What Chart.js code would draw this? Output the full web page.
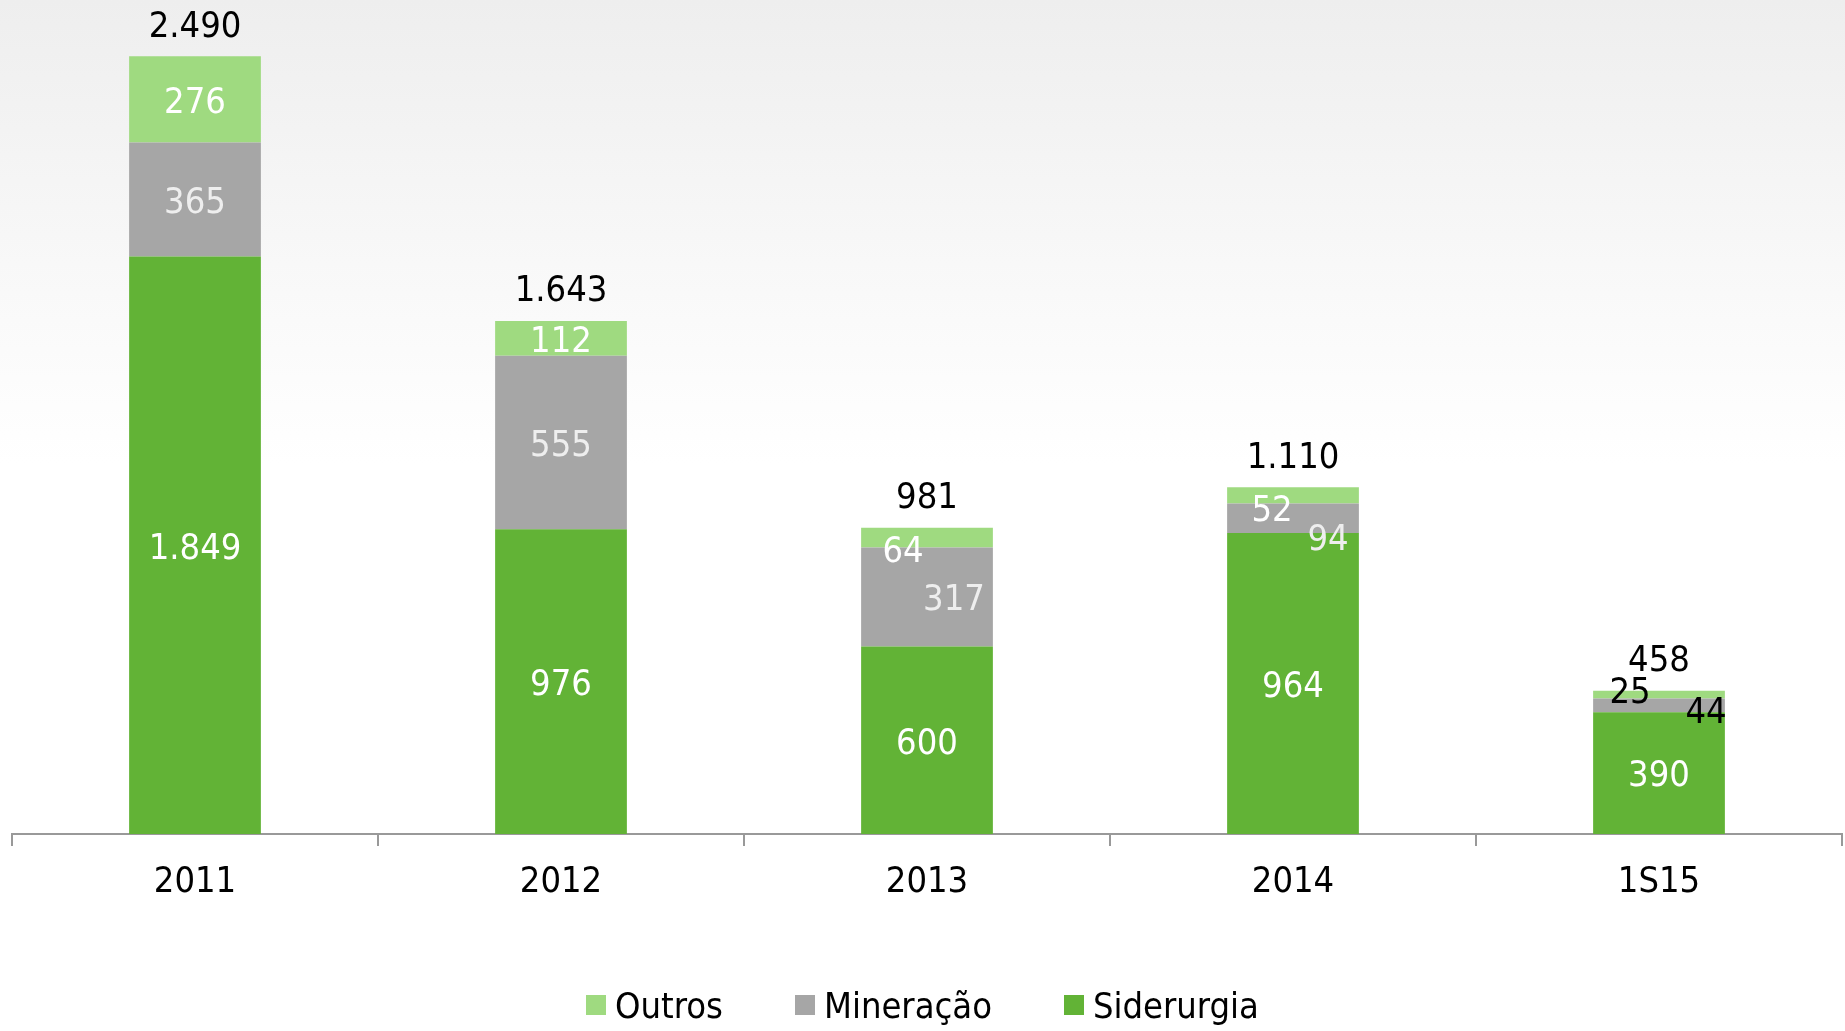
<!DOCTYPE html>
<html>
<head>
<meta charset="utf-8">
<script src="https://cdn.jsdelivr.net/npm/chart.js@4.4.0/dist/chart.umd.min.js"></script>
<style>
  html, body { margin: 0; padding: 0; }
  body {
    width: 1845px; height: 1031px; overflow: hidden; position: relative;
    background: linear-gradient(to bottom, #eeeeee 0%, #f6f6f6 20%, #ffffff 45%);
    font-family: "DejaVu Sans Condensed", "Liberation Sans Narrow", sans-serif;
  }
  #wrap { position: absolute; left: 0; top: 0; width: 1845px; height: 1031px; }
  #legend {
    position: absolute; left: 0; right: 0; top: 983px; height: 44px;
    display: flex; justify-content: center; align-items: center; gap: 72px;
    font-size: 36px; color: #000;
  }
  #legend .item { display: flex; align-items: center; }
  #legend .box { width: 20px; height: 20px; margin-right: 9px; }
</style>
</head>
<body>
<div id="wrap"><canvas id="chart" width="1845" height="1031"></canvas></div>
<div id="legend"></div>
<script>
const categories = ['2011', '2012', '2013', '2014', '1S15'];
const siderurgia = [1849, 976, 600, 964, 390];
const mineracao = [365, 555, 317, 94, 44];
const outros = [276, 112, 64, 52, 25];
const totals = [2490, 1643, 981, 1110, 458];

const colors = { siderurgia: '#62b336', mineracao: '#a6a6a6', outros: '#9fda80' };
const FONT = '"DejaVu Sans Condensed", "Liberation Sans Narrow", sans-serif';

// manual nudges for the crowded labels (dataset index, category index)
const labelNudge = {
  '1-2': { dx: 27, dy: 0 },
  '2-2': { dx: -24, dy: 11 },
  '1-3': { dx: 35, dy: 18 },
  '2-3': { dx: -21, dy: 12 },
  '1-4': { dx: 47, dy: 4, color: '#000' },
  '2-4': { dx: -29, dy: -5, color: '#000' }
};

function fmt(v) {
  return v.toString().replace(/\B(?=(\d{3})+(?!\d))/g, '.');
}

const valueLabels = {
  id: 'valueLabels',
  afterDatasetsDraw(chart) {
    const ctx = chart.ctx;
    ctx.save();
    ctx.textAlign = 'center';
    ctx.textBaseline = 'middle';
    chart.data.datasets.forEach((ds, di) => {
      const meta = chart.getDatasetMeta(di);
      meta.data.forEach((bar, i) => {
        const n = labelNudge[di + '-' + i] || {};
        const x = bar.x + (n.dx || 0);
        const y = (bar.y + bar.base) / 2 + (n.dy || 0) + 4;
        ctx.font = '36px ' + FONT;
        ctx.fillStyle = n.color || (di === 1 ? '#eeeeee' : '#ffffff');
        ctx.fillText(fmt(ds.data[i]), x, y);
      });
    });
    const topMeta = chart.getDatasetMeta(2);
    topMeta.data.forEach((bar, i) => {
      ctx.font = '36px ' + FONT;
      ctx.fillStyle = '#000';
      ctx.fillText(fmt(totals[i]), bar.x, bar.y - 29);
    });
    ctx.restore();
  }
};

new Chart(document.getElementById('chart'), {
  type: 'bar',
  data: {
    labels: categories,
    datasets: [
      { label: 'Siderurgia', data: siderurgia, backgroundColor: colors.siderurgia },
      { label: 'Mineração', data: mineracao, backgroundColor: colors.mineracao },
      { label: 'Outros', data: outros, backgroundColor: colors.outros }
    ]
  },
  options: {
    responsive: false,
    animation: false,
    layout: { padding: { left: 12, right: 3, top: 22, bottom: 0 } },
    datasets: { bar: { categoryPercentage: 1, barPercentage: 0.36, borderWidth: 0 } },
    scales: {
      x: {
        stacked: true,
        afterFit(scale) { scale.height = 197; },
        grid: { display: true, drawOnChartArea: false, drawTicks: true, tickLength: 12, color: '#999', lineWidth: 2 },
        border: { display: true, color: '#999', width: 2 },
        ticks: { color: '#000', padding: 15, font: { family: FONT, size: 36 } }
      },
      y: {
        stacked: true, display: false, min: 0, max: 2600
      }
    },
    plugins: {
      legend: { display: false },
      tooltip: { enabled: false }
    }
  },
  plugins: [valueLabels]
});

// legend, in the reference order
const legendItems = [
  ['Outros', colors.outros],
  ['Mineração', colors.mineracao],
  ['Siderurgia', colors.siderurgia]
];
const legend = document.getElementById('legend');
legendItems.forEach(([name, color]) => {
  const item = document.createElement('div');
  item.className = 'item';
  item.innerHTML = `<span class="box" style="background:${color}"></span><span>${name}</span>`;
  legend.appendChild(item);
});
</script>
</body>
</html>
